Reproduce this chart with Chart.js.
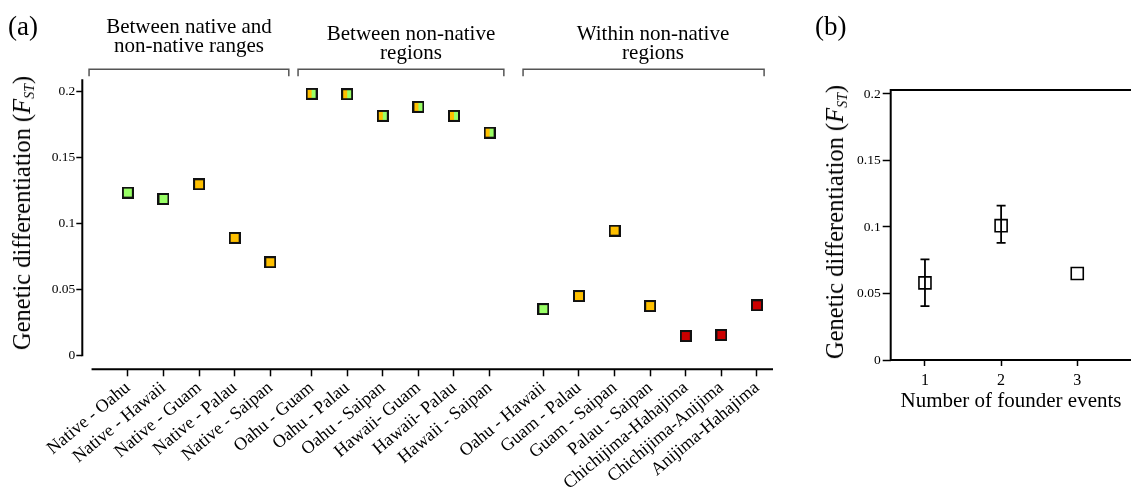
<!DOCTYPE html>
<html>
<head>
<meta charset="utf-8">
<script src="https://cdn.jsdelivr.net/npm/chart.js@4.4.0/dist/chart.umd.min.js"></script>
<style>
html, body { margin: 0; padding: 0; background: #fff; overflow: hidden; width: 1131px; height: 494px; }
body { position: relative; font-family: "Liberation Serif", "Times New Roman", serif; color: #000; }
.wrap { position: absolute; top: 0; height: 494px; }
#wrapA { left: 0; width: 800px; }
#wrapB { left: 800px; width: 360px; }
.panel { position: absolute; font-size: 27px; line-height: 27px; top: 13px; }
.head { position: absolute; font-size: 21px; line-height: 18.5px; text-align: center; transform: translateX(-50%); white-space: nowrap; }
.ytitle { position: absolute; font-size: 24.5px; line-height: 24px; white-space: nowrap; transform: translate(-50%, -50%) rotate(-90deg); }
.ytitle sub { font-size: 14px; vertical-align: -4px; font-style: italic; }
.xtitle { position: absolute; font-size: 21px; line-height: 21px; white-space: nowrap; transform: translateX(-50%); }
</style>
</head>
<body>
<div id="wrapA" class="wrap"><canvas id="chartA"></canvas></div>
<div id="wrapB" class="wrap"><canvas id="chartB"></canvas></div>

<div class="panel" style="left:8px">(a)</div>
<div class="panel" style="left:815px">(b)</div>

<div class="head" style="left:189px; top:17px">Between native and<br>non-native ranges</div>
<div class="head" style="left:411px; top:24px">Between non-native<br>regions</div>
<div class="head" style="left:653px; top:24px">Within non-native<br>regions</div>

<div class="ytitle" style="left:26px; top:213px">Genetic differentiation (<i>F</i><sub>ST</sub>)</div>
<div class="ytitle" style="left:839px; top:222px">Genetic differentiation (<i>F</i><sub>ST</sub>)</div>
<div class="xtitle" style="left:1011px; top:390px">Number of founder events</div>

<script>
// panel (a): pairwise FST
var pairs = [
    "Native - Oahu", "Native - Hawaii", "Native - Guam", "Native - Palau", "Native - Saipan",
    "Oahu - Guam", "Oahu - Palau", "Oahu - Saipan", "Hawaii- Guam", "Hawaii- Palau", "Hawaii - Saipan",
    "Oahu - Hawaii", "Guam - Palau", "Guam - Saipan", "Palau - Saipan",
    "Chichijima-Hahajima", "Chichijima-Anijima", "Anijima-Hahajima"
];
var pairGroup = [0, 0, 0, 0, 0, 1, 1, 1, 1, 1, 1, 2, 2, 2, 2, 2, 2, 2];
var pairFst = [0.1232, 0.1184, 0.1295, 0.0889, 0.0705,
    0.198, 0.1977, 0.1813, 0.1881, 0.1813, 0.1686,
    0.0350, 0.0449, 0.0944, 0.0373, 0.0146, 0.0154, 0.0379];
var pairColour = ["green", "green", "orange", "orange", "orange",
    "split", "split", "split", "split", "split", "split",
    "green", "orange", "orange", "orange", "red", "red", "red"];

var fstTicks = [0, 0.05, 0.1, 0.15, 0.2];
var fstTickLabels = ["0", "0.05", "0.1", "0.15", "0.2"];

// panel (b): founder events
var founderEvents = [1, 2, 3];
var founderFst = [0.058, 0.101, 0.065];
var founderLow = [0.0405, 0.088, null];
var founderHigh = [0.0757, 0.116, null];

// layout
var groupExtraGap = [0, 0.16, 0.67];
var bracketPad = [[1.09, 0.52], [0.38, 0.40], [0.57, 0.20]];
var serif = "Liberation Serif";
var fills = { green: "#99FF66", orange: "#FFC000", red: "#CC0000" };

var xPos = pairs.map(function (p, i) { return i + groupExtraGap[pairGroup[i]]; });

function squareMarker(left, right) {
    var c = document.createElement("canvas");
    c.width = 12;
    c.height = 12;
    var g = c.getContext("2d");
    g.fillStyle = "#111";
    g.fillRect(0, 0, 12, 12);
    g.fillStyle = left;
    g.fillRect(2, 2, 4, 8);
    g.fillStyle = right;
    g.fillRect(6, 2, 4, 8);
    return c;
}

var markers = {
    green: squareMarker(fills.green, fills.green),
    orange: squareMarker(fills.orange, fills.orange),
    red: squareMarker(fills.red, fills.red),
    split: squareMarker(fills.orange, fills.green)
};

var axesA = {
    id: "axesA",
    afterDraw: function (chart) {
        var ctx = chart.ctx, area = chart.chartArea;
        var x = chart.scales.x, y = chart.scales.y;
        ctx.save();
        ctx.strokeStyle = "#000";
        ctx.lineWidth = 2;
        ctx.beginPath();
        ctx.moveTo(area.left, y.getPixelForValue(0) + 1);
        ctx.lineTo(area.left, area.top);
        ctx.moveTo(x.getPixelForValue(-1.02), area.bottom);
        ctx.lineTo(area.right, area.bottom);
        ctx.stroke();

        // group brackets
        ctx.strokeStyle = "#555";
        ctx.lineWidth = 1.5;
        var top = area.top - 10;
        [0, 1, 2].forEach(function (g) {
            var idx = xPos.filter(function (v, i) { return pairGroup[i] === g; });
            var x0 = x.getPixelForValue(idx[0] - bracketPad[g][0]);
            var x1 = x.getPixelForValue(idx[idx.length - 1] + bracketPad[g][1]);
            ctx.beginPath();
            ctx.moveTo(x0, top + 7);
            ctx.lineTo(x0, top);
            ctx.lineTo(x1, top);
            ctx.lineTo(x1, top + 7);
            ctx.stroke();
        });
        ctx.restore();
    }
};

var frameB = {
    id: "frameB",
    afterDatasetsDraw: function (chart) {
        var ctx = chart.ctx, area = chart.chartArea;
        var x = chart.scales.x, y = chart.scales.y;
        ctx.save();
        ctx.strokeStyle = "#000";
        ctx.lineWidth = 1.8;
        founderEvents.forEach(function (e, i) {
            if (founderLow[i] === null) return;
            var px = x.getPixelForValue(e);
            var lo = y.getPixelForValue(founderLow[i]);
            var hi = y.getPixelForValue(founderHigh[i]);
            ctx.beginPath();
            ctx.moveTo(px, lo);
            ctx.lineTo(px, hi);
            ctx.moveTo(px - 4.5, lo);
            ctx.lineTo(px + 4.5, lo);
            ctx.moveTo(px - 4.5, hi);
            ctx.lineTo(px + 4.5, hi);
            ctx.stroke();
        });
        ctx.lineWidth = 2;
        ctx.strokeRect(area.left, area.top, area.right - area.left, area.bottom - area.top);
        ctx.restore();
    }
};

document.addEventListener("DOMContentLoaded", function () {
    crearPanelA(document.getElementById("chartA"));
    crearPanelB(document.getElementById("chartB"));
});

function crearPanelA(canvas) {
    return new Chart(canvas, {
        type: "scatter",
        data: {
            datasets: [{
                data: pairFst.map(function (v, i) { return { x: xPos[i], y: v }; }),
                pointStyle: pairColour.map(function (c) { return markers[c]; }),
                pointRadius: 6,
                showLine: false
            }]
        },
        options: {
            responsive: true,
            maintainAspectRatio: false,
            animation: false,
            layout: { padding: { top: 79.3, right: 27, left: 0, bottom: 0 } },
            plugins: { legend: { display: false }, tooltip: { enabled: false } },
            scales: {
                x: {
                    type: "linear",
                    min: -1.28,
                    max: 18.12,
                    afterBuildTicks: function (s) { s.ticks = xPos.map(function (v) { return { value: v }; }); },
                    afterFit: function (s) { s.height = 124.7; s.paddingLeft = 0; s.paddingRight = 0; },
                    border: { display: false },
                    grid: { drawOnChartArea: false, drawTicks: true, tickLength: 7, tickWidth: 1.5, tickColor: "#000" },
                    ticks: {
                        autoSkip: false,
                        minRotation: 40,
                        maxRotation: 40,
                        padding: 1,
                        color: "#000",
                        font: { family: serif, size: 18 },
                        callback: function (v, i) { return pairs[i]; }
                    }
                },
                y: {
                    min: -0.0106,
                    max: 0.209,
                    afterBuildTicks: function (s) { s.ticks = fstTicks.map(function (v) { return { value: v }; }); },
                    afterFit: function (s) { s.width = 82.3; s.paddingTop = 0; s.paddingBottom = 0; },
                    border: { display: false },
                    grid: { drawOnChartArea: false, drawTicks: true, tickLength: 6, tickWidth: 1.5, tickColor: "#000" },
                    ticks: {
                        padding: 1,
                        color: "#000",
                        font: { family: serif, size: 13.5 },
                        callback: function (v, i) { return fstTickLabels[i]; }
                    }
                }
            }
        },
        plugins: [axesA]
    });
}

function crearPanelB(canvas) {
    return new Chart(canvas, {
        type: "scatter",
        data: {
            datasets: [{
                data: founderFst.map(function (v, i) { return { x: founderEvents[i], y: v }; }),
                pointStyle: "rect",
                pointRadius: 8.5,
                backgroundColor: "#fff",
                borderColor: "#000",
                borderWidth: 1.6,
                showLine: false
            }]
        },
        options: {
            responsive: true,
            maintainAspectRatio: false,
            animation: false,
            layout: { padding: { top: 90, right: 10, left: 0, bottom: 0 } },
            plugins: { legend: { display: false }, tooltip: { enabled: false } },
            scales: {
                x: {
                    type: "linear",
                    min: 0.55,
                    max: 3.954,
                    afterBuildTicks: function (s) { s.ticks = founderEvents.map(function (v) { return { value: v }; }); },
                    afterFit: function (s) { s.height = 134; s.paddingLeft = 0; s.paddingRight = 0; },
                    border: { display: false },
                    grid: { drawOnChartArea: false, drawTicks: true, tickLength: 6, tickWidth: 1.5, tickColor: "#000" },
                    ticks: {
                        padding: 5,
                        color: "#000",
                        font: { family: serif, size: 16 },
                        callback: function (v) { return String(v); }
                    }
                },
                y: {
                    min: 0,
                    max: 0.203,
                    afterBuildTicks: function (s) { s.ticks = fstTicks.map(function (v) { return { value: v }; }); },
                    afterFit: function (s) { s.width = 90.7; s.paddingTop = 0; s.paddingBottom = 0; },
                    border: { display: false },
                    grid: { drawOnChartArea: false, drawTicks: true, tickLength: 8, tickWidth: 1.5, tickColor: "#000" },
                    ticks: {
                        padding: 2,
                        color: "#000",
                        font: { family: serif, size: 13.5 },
                        callback: function (v, i) { return fstTickLabels[i]; }
                    }
                }
            }
        },
        plugins: [frameB]
    });
}
</script>
</body>
</html>
